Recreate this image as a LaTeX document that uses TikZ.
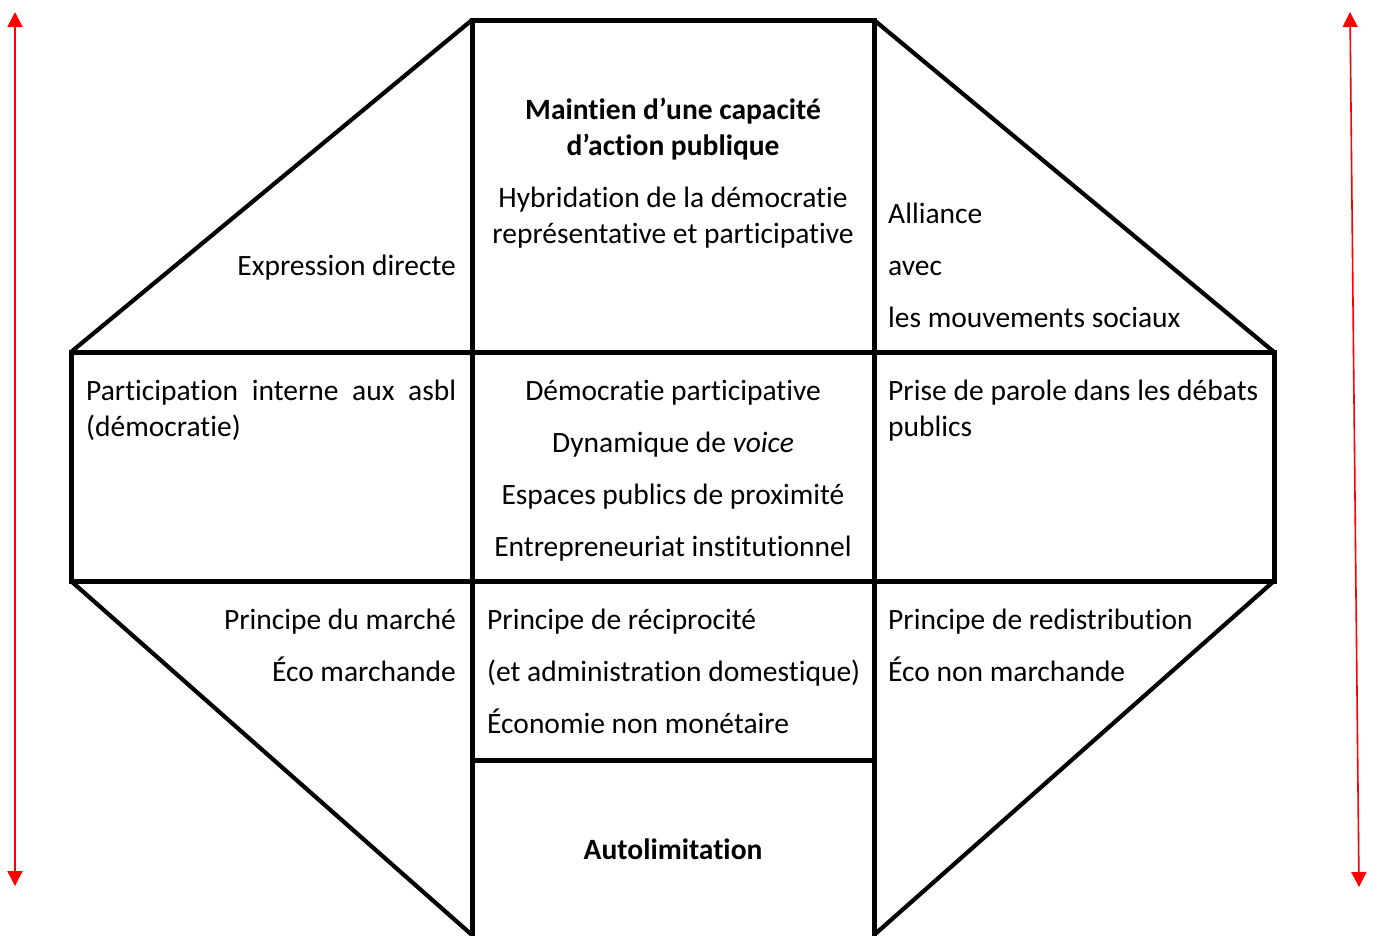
\documentclass[tikz,border=0pt]{standalone}
\usepackage{fontspec}
\setmainfont[Ligatures=NoCommon]{Carlito}
\usetikzlibrary{arrows.meta}
\begin{document}
\begin{tikzpicture}[x=1pt,y=-1pt,
  frame/.style={line width=5pt,line join=miter,line cap=rect},
  diag/.style={line width=4.2pt},
  redarrow/.style={draw=red,line width=1.6pt,{Triangle[width=15pt,length=15pt]}-{Triangle[width=15pt,length=15pt]}},
  txt/.style={inner sep=0pt,font=\fontsize{29.5}{36}\selectfont},
  bt/.style={txt,font=\fontsize{29.5}{36}\selectfont\bfseries}]
\useasboundingbox (0,0) rectangle (1375,935);
% frame
\draw[frame] (472,940) -- (472,20) -- (874,20) -- (874,940);
\draw[frame] (71,352) rectangle (1274,581);
\draw[frame] (472,760) -- (874,760);
\draw[diag] (71,352) -- (472,20);
\draw[diag] (874,20) -- (1274,352);
\draw[diag] (71,581) -- (472,935);
\draw[diag] (1274,581) -- (874,935);
% red arrows
\coordinate (la) at (15,12);
\coordinate (lb) at (15,886);
\coordinate (ra) at (1350,12);
\coordinate (rb) at (1359,887);
\draw[redarrow] (la) -- (lb);
\draw[redarrow] (ra) -- (rb);
% top
\node[bt,anchor=mid] (t1) at (673,117) {Maintien d’une capacité};
\node[bt,anchor=mid] (t2) at (673,153) {d’action publique};
\node[txt,anchor=mid] (t3) at (673,205) {Hybridation de la démocratie};
\node[txt,anchor=mid] (t4) at (673,241) {représentative et participative};
\node[txt,anchor=mid east] (tl) at (456,273) {Expression directe};
\node[txt,anchor=mid west] (tr1) at (888,221) {Alliance};
\node[txt,anchor=mid west] (tr2) at (888,273) {avec};
\node[txt,anchor=mid west] (tr3) at (888,325) {les mouvements sociaux};
% middle
\node[txt,anchor=mid west] (ml1) at (86,398) {\makebox[370pt][s]{Participation interne aux asbl}};
\node[txt,anchor=mid west] (ml2) at (86,434) {(démocratie)};
\node[txt,anchor=mid] (mc1) at (673,398) {Démocratie participative};
\node[txt,anchor=mid] (mc2) at (673,450) {Dynamique de \textit{voice}};
\node[txt,anchor=mid] (mc3) at (673,502) {Espaces publics de proximité};
\node[txt,anchor=mid] (mc4) at (673,554) {Entrepreneuriat institutionnel};
\node[txt,anchor=mid west] (mr1) at (888,398) {\makebox[370pt][s]{Prise de parole dans les débats}};
\node[txt,anchor=mid west] (mr2) at (888,434) {publics};
% lower
\node[txt,anchor=mid east] (bl1) at (456,627) {Principe du marché};
\node[txt,anchor=mid east] (bl2) at (456,679) {Éco marchande};
\node[txt,anchor=mid west] (bc1) at (487,627) {Principe de réciprocité};
\node[txt,anchor=mid west] (bc2) at (487,679) {(et administration domestique)};
\node[txt,anchor=mid west] (bc3) at (487,731) {Économie non monétaire};
\node[txt,anchor=mid west] (br1) at (888,627) {Principe de redistribution};
\node[txt,anchor=mid west] (br2) at (888,679) {Éco non marchande};
\node[bt,anchor=mid] (auto) at (673,857) {Autolimitation};
\end{tikzpicture}
\end{document}
